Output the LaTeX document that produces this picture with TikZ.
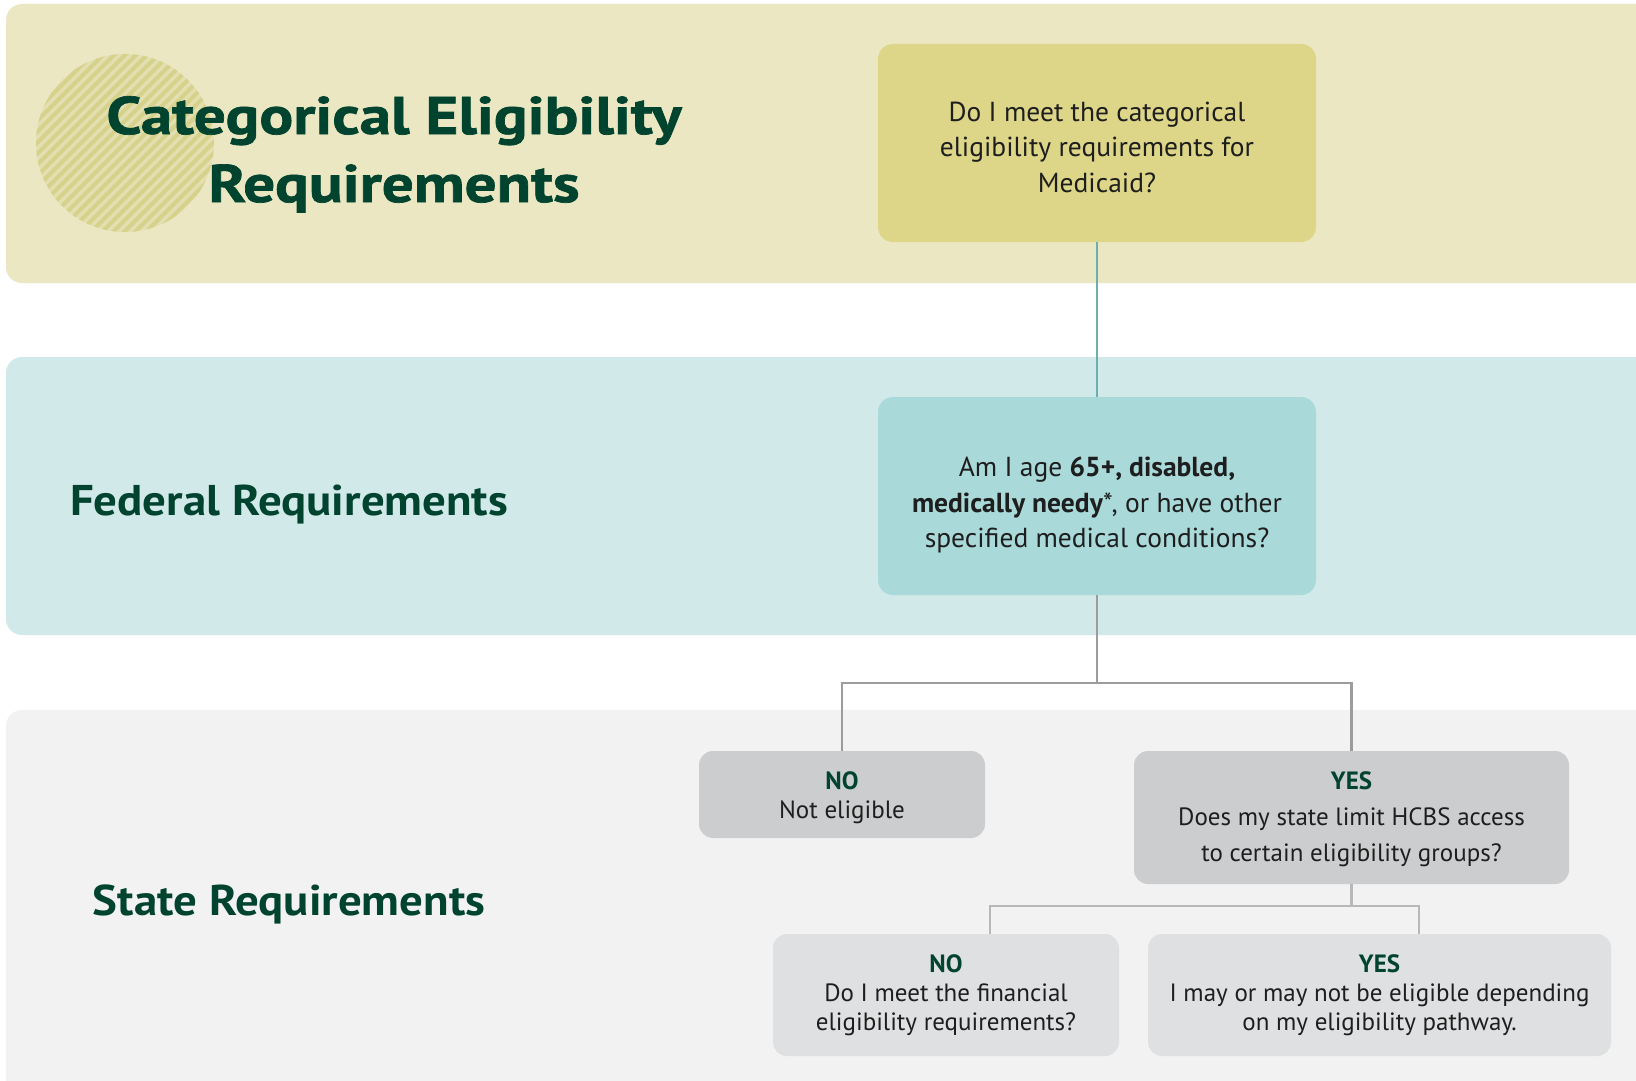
\documentclass[tikz,border=0pt]{standalone}
\usepackage{fontspec}
\setmainfont{PT Sans}
\newfontfamily\headfont{PT Sans}[FakeStretch=1.09]
\newfontfamily\titlefont{PT Sans}[FakeStretch=1.19, FakeBold=1.3]

\definecolor{bandyellow}{HTML}{EBE7C3}
\definecolor{bandteal}{HTML}{D2E9E9}
\definecolor{bandgrey}{HTML}{F1F2F1}
\definecolor{circback}{HTML}{E4DFB1}
\definecolor{stripecol}{HTML}{D6D28C}
\definecolor{qyellow}{HTML}{DDD688}
\definecolor{qteal}{HTML}{A9D9D9}
\definecolor{ansdark}{HTML}{CCCDCE}
\definecolor{anslight}{HTML}{DFE0E1}
\definecolor{headgreen}{HTML}{00432E}
\definecolor{textblack}{HTML}{1E1E1E}
\definecolor{tealline}{HTML}{6FAEAE}
\definecolor{greyline}{HTML}{9C9C9C}
\definecolor{lightline}{HTML}{B8B8B8}

\newcommand{\answerhead}[1]{{\bfseries\color{headgreen}#1}}

\tikzset{
  band/.style={rounded corners=16pt},
  stripe/.style={stripecol, line width=4pt},
  qbox/.style={rounded corners=15pt, minimum width=438pt, minimum height=198pt},
  ansbox/.style={rounded corners=14pt, align=center, text=textblack},
  boxtext/.style={align=center, text=textblack, font=\fontsize{27.5}{35.5}\selectfont},
  titletext/.style={text=headgreen, font=\titlefont\fontsize{53}{60}\selectfont\bfseries},
  headtext/.style={text=headgreen, font=\headfont\fontsize{43}{50}\selectfont\bfseries},
  tealconn/.style={tealline, line width=2.6pt},
  greyconn/.style={greyline, line width=2.2pt},
  lightconn/.style={lightline, line width=2.2pt}
}

\begin{document}
\begin{tikzpicture}[x=1pt,y=-1pt]
    \useasboundingbox (0,0) rectangle (1636,1081);
    \fill[white] (0,0) rectangle (1636,1081);
    % bands
    \fill[bandyellow, band] (6,4) rectangle (1670,283);
    \fill[bandteal, band] (6,357) rectangle (1670,635);
    \fill[bandgrey, band] (6,710) rectangle (1670,1120);
    % hatched circle behind the title
    \begin{scope}
        \clip (125,143) circle (89pt);
        \fill[circback] (125,143) circle (89pt);
        \foreach \s in {-231,-220,...,231}
            \draw[stripe] (125+\s-110,253) -- (125+\s+110,33);
    \end{scope}
    \node[titletext, anchor=base] (title1) at (394,134) {Categorical Eligibility};
    \node[titletext, anchor=base] (title2) at (394,202) {Requirements};
    \node[headtext, anchor=base] (fedhead) at (289,515) {Federal Requirements};
    \node[headtext, anchor=base] (statehead) at (289,915) {State Requirements};
    % questions
    \node[qbox, fill=qyellow] (cat) at (1097,143) {};
    \node[boxtext, yshift=-4pt] (cattext) at (cat) {Do I meet the categorical\\eligibility requirements for\\Medicaid?};
    \node[qbox, fill=qteal] (fed) at (1097,496) {};
    \node[boxtext, yshift=-9pt] (fedtext) at (fed) {Am I age \textbf{65+, disabled,}\\\textbf{medically needy}*, or have other\\specified medical conditions?};
    % answers
    \node[ansbox, fill=ansdark, minimum width=286pt, minimum height=87pt, font=\fontsize{25}{29}\selectfont] (notelig) at (842,794.5) {\rule{0pt}{24pt}\answerhead{NO}\\Not eligible};
    \node[ansbox, fill=ansdark, minimum width=435pt, minimum height=133pt, font=\fontsize{25}{36}\selectfont] (limit) at (1351.5,817.5) {\rule{0pt}{22pt}\answerhead{YES}\\Does my state limit HCBS access\\to certain eligibility groups?};
    \node[ansbox, fill=anslight, minimum width=346pt, minimum height=122pt, font=\fontsize{25}{29}\selectfont] (financial) at (946,995) {\answerhead{NO}\\Do I meet the financial\\eligibility requirements?};
    \node[ansbox, fill=anslight, minimum width=463pt, minimum height=122pt, font=\fontsize{25}{29}\selectfont] (pathway) at (1379.5,995) {\answerhead{YES}\\I may or may not be eligible depending\\on my eligibility pathway.};
    % connectors
    \draw[tealconn] (cat.south) -- (fed.north);
    \coordinate (split1) at (1097,683);
    \draw[greyconn] (fed.south) -- (split1);
    \draw[greyconn] (notelig.north) |- (split1) -| (limit.north);
    \coordinate (split2) at (1351.5,906);
    \draw[lightconn] (limit.south) -- (split2);
    \draw[lightconn] ([xshift=44pt]financial.north) |- (split2) -| ([xshift=39.5pt]pathway.north);
\end{tikzpicture}
\end{document}
